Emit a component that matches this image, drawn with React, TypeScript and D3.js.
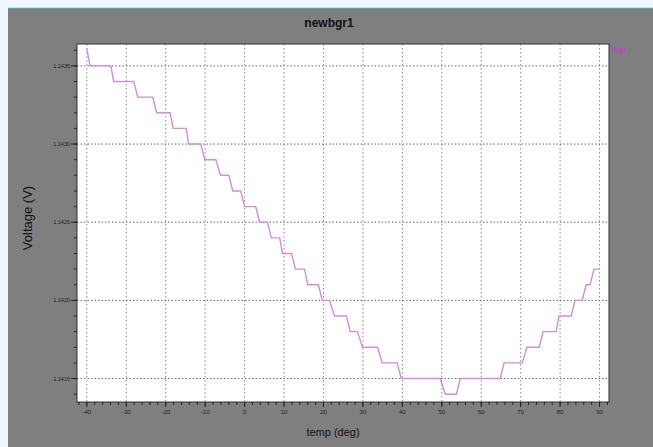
import React from 'react';
import * as d3 from 'd3';

// step vertices of the simulated output (temp in deg, voltage in V)
const temps = [
  -40, -39.2, -33.9, -33.2, -28.1, -27.1, -23.3, -22.3, -18.9, -18.1,
  -14.8, -14.2, -11.1, -10.1, -7.3, -6.1, -4.0, -3.0, -1.0, 0.0,
  2.8, 3.8, 5.8, 6.8, 8.9, 9.6, 11.9, 12.9, 15.2, 16.0,
  18.7, 19.7, 21.5, 22.8, 25.8, 26.8, 28.6, 29.9, 33.7, 34.9,
  38.7, 39.7, 49.6, 50.9, 53.7, 54.7, 64.8, 65.8, 70.4, 71.6,
  74.7, 75.7, 79.0, 79.7, 82.8, 83.8, 85.6, 86.6, 87.6, 88.6, 90,
];
const volts = [
  1.14361, 1.1435, 1.1435, 1.1434, 1.1434, 1.1433, 1.1433, 1.1432, 1.1432, 1.1431,
  1.1431, 1.143, 1.143, 1.1429, 1.1429, 1.1428, 1.1428, 1.1427, 1.1427, 1.1426,
  1.1426, 1.1425, 1.1425, 1.1424, 1.1424, 1.1423, 1.1423, 1.1422, 1.1422, 1.1421,
  1.1421, 1.142, 1.142, 1.1419, 1.1419, 1.1418, 1.1418, 1.1417, 1.1417, 1.1416,
  1.1416, 1.1415, 1.1415, 1.1414, 1.1414, 1.1415, 1.1415, 1.1416, 1.1416, 1.1417,
  1.1417, 1.1418, 1.1418, 1.1419, 1.1419, 1.142, 1.142, 1.1421, 1.1421, 1.1422, 1.1422,
];

const xTicks = [-40, -30, -20, -10, 0, 10, 20, 30, 40, 50, 60, 70, 80, 90];
const yTicks = [1.1415, 1.142, 1.1425, 1.143, 1.1435];
const yTickLabels = ['1.1415', '1.1420', '1.1425', '1.1430', '1.1435'];

const font = '"Liberation Sans", Arial, sans-serif';

export default function App() {
  const W = 653, H = 447;
  const left = 77, right = 609, top = 44, bottom = 402;

  const x = d3.scaleLinear().domain([-42.5, 92.4]).range([left, right]);
  const y = d3.scaleLinear().domain([1.14135, 1.14364]).range([bottom, top]);

  const line = d3.line<number>()
    .x((d, i) => x(temps[i]))
    .y(d => y(d));

  const xMinor = d3.range(-42, 93, 2);
  const yMinor = d3.range(0, 23).map(i => 1.1414 + i * 0.0001);

  return (
    <div style={{ position: 'fixed', left: 0, top: 0 }}>
      <svg width={W} height={H} style={{ display: 'block' }}>
        <rect x={0} y={0} width={W} height={H} fill="#eef7fb" />
        <rect x={8} y={8} width={W - 8} height={H - 8} fill="#7f7f7f" />
        <line x1={8} x2={W} y1={8.5} y2={8.5} stroke="#5e9f9f" strokeWidth={1.5} />

        <text x={329} y={27} textAnchor="middle" fontFamily={font} fontSize={12}
          fontWeight="bold" fill="#111">newbgr1</text>

        <rect x={left} y={top} width={right - left} height={bottom - top} fill="#fff" />

        {/* grid */}
        {xTicks.map(t => (
          <line key={'gx' + t} x1={x(t)} x2={x(t)} y1={top} y2={bottom}
            stroke="#8a8a8a" strokeDasharray="1.5,2.5" />
        ))}
        {yTicks.map(t => (
          <line key={'gy' + t} x1={left} x2={right} y1={y(t)} y2={y(t)}
            stroke="#666" strokeDasharray="1.5,2" />
        ))}

        <path d={line(volts) || ''} fill="none" stroke="#d08fd6" strokeWidth={1.4} />

        <rect x={left} y={top} width={right - left} height={bottom - top}
          fill="none" stroke="#333" strokeWidth={1} />

        {/* x axis */}
        {xMinor.map(t => (
          <line key={'xm' + t} x1={x(t)} x2={x(t)} y1={bottom} y2={bottom + 3}
            stroke="#222" />
        ))}
        {xTicks.map(t => (
          <g key={'xt' + t}>
            <line x1={x(t)} x2={x(t)} y1={bottom} y2={bottom + 5} stroke="#222" />
            <text x={x(t)} y={bottom + 12} textAnchor="middle" fontFamily={font}
              fontSize={6} fill="#222">{t}</text>
          </g>
        ))}

        {/* y axis */}
        {yMinor.map(t => (
          <line key={'ym' + t} x1={left - 3} x2={left} y1={y(t)} y2={y(t)} stroke="#222" />
        ))}
        {yTicks.map((t, i) => (
          <g key={'yt' + t}>
            <line x1={left - 6} x2={left} y1={y(t)} y2={y(t)} stroke="#222" />
            <text x={left - 7} y={y(t) + 2} textAnchor="end" fontFamily={font}
              fontSize={5.5} fill="#222">{yTickLabels[i]}</text>
          </g>
        ))}

        <text x={333} y={436} textAnchor="middle" fontFamily={font} fontSize={11}
          fill="#111">temp (deg)</text>
        <text transform="translate(32,218) rotate(-90)" textAnchor="middle"
          fontFamily={font} fontSize={13} fill="#111">Voltage (V)</text>

        <text x={612} y={52} fontFamily={font} fontSize={7.5} fontWeight="bold"
          fill="#c23cc8">/bgr</text>
      </svg>
    </div>
  );
}
